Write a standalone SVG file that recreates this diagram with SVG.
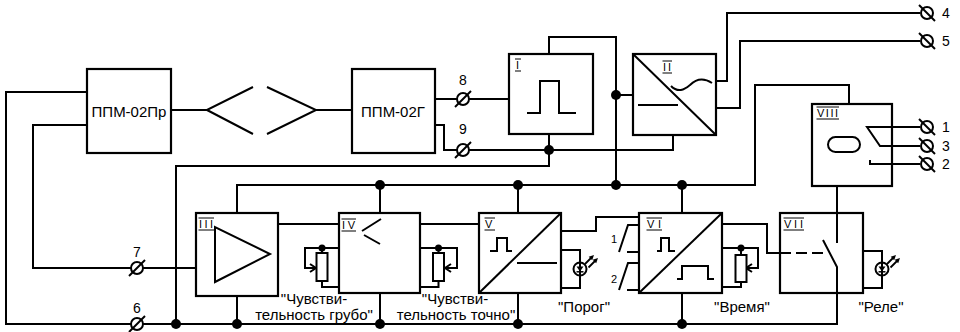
<svg xmlns="http://www.w3.org/2000/svg" width="960" height="332" viewBox="0 0 960 332">
<style>
.w{fill:none;stroke:#000;stroke-width:2;stroke-linejoin:miter}
.b{fill:#fff;stroke:#000;stroke-width:2.2}
.s{fill:none;stroke:#000;stroke-width:2}
.d{fill:#000}
.t{font-family:"Liberation Sans",Arial,sans-serif;font-size:15px;fill:#000}
.n{font-family:"Liberation Sans",Arial,sans-serif;font-size:14px;fill:#000}
.c{font-family:"Liberation Sans",Arial,sans-serif;font-size:11px;fill:#000}
.r{font-family:"Liberation Sans",Arial,sans-serif;font-size:11px;fill:#000}
.rl{stroke:#000;stroke-width:1.2;fill:none}
.m{text-anchor:middle}
.tm{fill:#fff;stroke:#000;stroke-width:2}
.res{fill:#fff;stroke:#000;stroke-width:2}
</style>
<defs>
<g id="tl"><circle r="6" class="tm"/><line x1="-8" y1="8" x2="8" y2="-8" class="s"/></g>
<g id="tr"><circle r="6" class="tm"/><line x1="-8" y1="-8" x2="8" y2="8" class="s"/></g>
<g id="led"><circle r="6.5" class="tm"/><line x1="0" y1="-6.5" x2="0" y2="6.5" class="s" stroke-width="1.5"/><path d="M-3.5,-2.5 H3.5 L0,2.5 z" fill="#000"/><line x1="-3.5" y1="2.8" x2="3.5" y2="2.8" stroke="#000" stroke-width="1.5"/><line x1="5" y1="-5" x2="11" y2="-11" stroke="#000" stroke-width="1.8"/><polygon points="14,-14 12.2,-8.7 8.7,-12.2" fill="#000"/><line x1="8.5" y1="-1.5" x2="15" y2="-8" stroke="#000" stroke-width="1.8"/><polygon points="18,-11 16.2,-5.7 12.7,-9.2" fill="#000"/></g>
</defs>

<g id="connectors">
<path class="w" d="M87,92 H6 V324 H837 V267"/>
<path class="w" d="M87,125 H33 V268 H196"/>
<path class="w" d="M171,110 H207 L253,87 M207,110 L253,134 M267,87 L316,110 L267,134 M316,110 H352"/>
<path class="w" d="M435,99 H509"/>
<path class="w" d="M435,125 H444 V150 H673 V135"/>
<path class="w" d="M549,134 V166 H176 V324"/>
<path class="w" d="M549,54 V37 H616 V185 M616,95 H633"/>
<path class="w" d="M716,81 H727 V13 H920 M716,108 H740 V41 H920"/>
<path class="w" d="M237,213 V185 H755 V85 H849 V104"/>
<path class="w" d="M380,185 V213 M518,185 V213 M682,185 V213"/>
<path class="w" d="M237,296 V324 M380,293 V324 M518,293 V324 M682,293 V324"/>
<path class="w" d="M278,224 H339 M420,224 H479"/>
<path class="w" d="M561,231 H596 V217 H639"/>
<path class="w" d="M722,224 H767 V253 H780"/>
<path class="w" d="M837,186 V243"/>
<path class="w" d="M561,250 H580 V288 H561"/>
<path class="w" d="M863,251 H882 V288 H863"/>
<path class="w" d="M892,127 H920 M892,146 H920 M892,164 H920"/>
<circle class="d" cx="549" cy="150" r="5"/>
<circle class="d" cx="616" cy="95" r="5"/>
<circle class="d" cx="380" cy="185" r="5"/>
<circle class="d" cx="518" cy="185" r="5"/>
<circle class="d" cx="616" cy="185" r="5"/>
<circle class="d" cx="682" cy="185" r="5"/>
<circle class="d" cx="176" cy="324" r="5"/>
<circle class="d" cx="237" cy="324" r="5"/>
<circle class="d" cx="380" cy="324" r="5"/>
<circle class="d" cx="518" cy="324" r="5"/>
<circle class="d" cx="682" cy="324" r="5"/>
</g>

<g id="terminals">
<use href="#tl" x="463" y="99"/>
<use href="#tl" x="463" y="150"/>
<use href="#tl" x="137" y="268"/>
<use href="#tl" x="137" y="324"/>
<use href="#tr" x="927" y="13"/>
<use href="#tr" x="927" y="41"/>
<use href="#tr" x="927" y="127"/>
<use href="#tr" x="927" y="146"/>
<use href="#tr" x="927" y="164"/>
<text class="n m" x="463" y="85">8</text>
<text class="n m" x="463" y="134">9</text>
<text class="n m" x="137" y="257">7</text>
<text class="n m" x="137" y="313">6</text>
<text class="n" x="942" y="18">4</text>
<text class="n" x="942" y="46">5</text>
<text class="n" x="942" y="132">1</text>
<text class="n" x="942" y="151">3</text>
<text class="n" x="942" y="169">2</text>
</g>

<g id="ppm02pr">
<rect class="b" x="87" y="69" width="84" height="84"/>
<text class="t m" x="129" y="117">ППМ-02Пр</text>
</g>

<g id="ppm02g">
<rect class="b" x="352" y="69" width="83" height="84"/>
<text class="t m" x="393" y="117">ППМ-02Г</text>
</g>

<g id="block1">
<rect class="b" x="509" y="54" width="84" height="80"/>
<text class="r" x="516" y="69">I</text>
<path class="rl" d="M515,59 H521 M515,71 H521"/>
<path class="s" d="M527,113 H540 V81 H559 V113 H576"/>
</g>

<g id="block2">
<rect class="b" x="633" y="54" width="83" height="81"/>
<path class="s" d="M633,54 L716,135 M638,105 H678"/>
<path class="s" d="M671,86 C678,93 684,90 690,85 C696,79 703,77 712,83"/>
<text class="r" x="663" y="71" textLength="8" lengthAdjust="spacing">II</text>
<path class="rl" d="M662.5,61 H672 M662.5,73 H672"/>
</g>

<g id="block3">
<rect class="b" x="196" y="213" width="82" height="83"/>
<text class="r" x="199" y="228" textLength="14" lengthAdjust="spacing">III</text>
<path class="rl" d="M198.5,218 H214 M198.5,230 H214"/>
<polygon class="s" points="215,227 215,282 270,254"/>
</g>

<g id="block4">
<rect class="b" x="339" y="213" width="81" height="80"/>
<text class="r" x="342" y="229" textLength="13" lengthAdjust="spacing">IV</text>
<path class="rl" d="M341.5,219 H356 M341.5,231 H356"/>
<path class="s" d="M381,219 L362,231 M364,235 L380,244"/>
</g>

<g id="pot-grubo">
<path class="w" d="M340,248 H305 V268 H315 M310,264 L316,268 L310,272 M322,248 V253 M322,281 V287 H340"/>
<rect class="res" x="316.5" y="253" width="11" height="28"/>
<circle class="d" cx="322" cy="248" r="3.5"/>
<text class="t m" x="314" y="304">"Чувстви-</text>
<text class="t m" x="314" y="320">тельность грубо"</text>
</g>

<g id="pot-tochno">
<path class="w" d="M420,248 H457 V268 H446 M451,264 L445,268 L451,272 M438.5,248 V253 M438.5,281 V287 H420"/>
<rect class="res" x="433" y="253" width="11" height="28"/>
<circle class="d" cx="438.5" cy="248" r="3.5"/>
<text class="t m" x="455" y="304">"Чувстви-</text>
<text class="t m" x="456" y="320">тельность точно"</text>
</g>

<g id="block5">
<rect class="b" x="479" y="213" width="82" height="80"/>
<text class="r" x="485" y="228" textLength="9" lengthAdjust="spacing">V</text>
<path class="rl" d="M484.5,218 H495 M484.5,230 H495"/>
<path class="s" d="M479,293 L561,213"/>
<path class="s" d="M490,251 H497 V238 H507 V251 H512 M517,263 H557"/>
</g>

<g id="led-porog">
<use href="#led" x="580" y="269"/>
<text class="t m" x="584" y="312">"Порог"</text>
</g>

<g id="contacts">
<path class="w" d="M639,225 H628 L619,252 M627,252 H639"/>
<path class="w" d="M639,263 H628 L619,290 M627,290 H639"/>
<text class="c" x="611" y="243">1</text>
<text class="c" x="611" y="283">2</text>
</g>

<g id="block6">
<rect class="b" x="639" y="213" width="83" height="80"/>
<text class="r" x="647" y="228" textLength="14" lengthAdjust="spacing">VI</text>
<path class="rl" d="M646.5,218 H662 M646.5,230 H662"/>
<path class="s" d="M639,293 L722,213"/>
<path class="s" d="M657,251 H661 V238 H669 V251 H675 M677,279 H682 V266 H708 V279 H714"/>
</g>

<g id="pot-vremya">
<path class="w" d="M722,248 H758 V268 H747 M752,264 L746,268 L752,272 M741,248 V255 M741,282 V287 H722"/>
<rect class="res" x="735.5" y="255" width="11" height="27"/>
<circle class="d" cx="741" cy="248" r="3.5"/>
<text class="t m" x="742" y="312">"Время"</text>
</g>

<g id="block7">
<rect class="b" x="780" y="213" width="83" height="80"/>
<text class="r" x="784" y="228" textLength="19" lengthAdjust="spacing">VII</text>
<path class="rl" d="M783.5,218 H804 M783.5,230 H804"/>
<path class="s" d="M780,253 H824" stroke-dasharray="11,5"/>
<path class="s" d="M837,213 V243 M823,240 L837,267 V293"/>
</g>

<g id="led-rele">
<use href="#led" x="882" y="269"/>
<text class="t m" x="881" y="312">"Реле"</text>
</g>

<g id="block8">
<rect class="b" x="812" y="104" width="80" height="82"/>
<text class="r" x="817" y="117" textLength="21" lengthAdjust="spacing">VIII</text>
<path class="rl" d="M816.5,107 H839 M816.5,119 H839"/>
<rect class="s" x="828" y="137" width="32" height="15" rx="7.5"/>
<path class="s" d="M892,127 H867 L880,146 H892 M870,160 V164 H892"/>
</g>
</svg>
